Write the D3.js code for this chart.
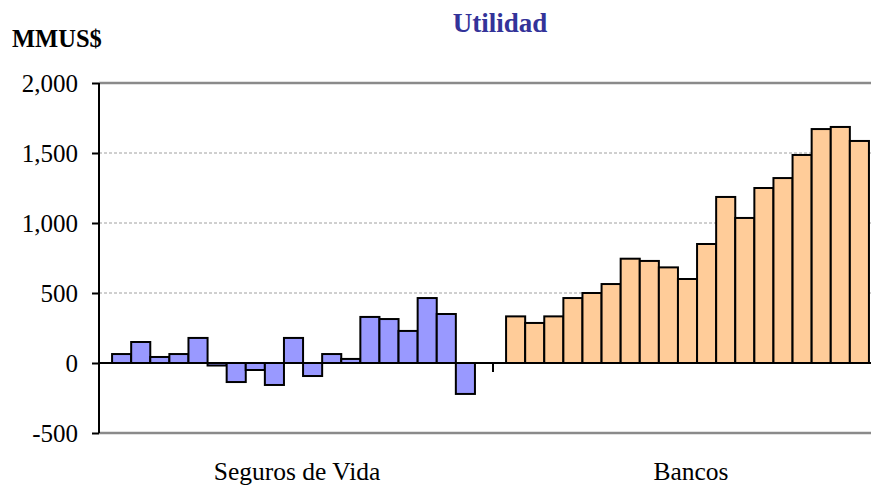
<!DOCTYPE html>
<html>
<head>
<meta charset="utf-8">
<script src="https://cdn.jsdelivr.net/npm/d3@7"></script>
<style>
  body { margin: 0; background: #fff; }
</style>
</head>
<body>
<div id="chart"></div>
<script>
// Data
var categories = ["Seguros de Vida", "Bancos"];
var seguros = [64, 150, 43, 64, 179, -18, -136, -50, -157, 179, -93, 64, 29, 329, 314, 229, 464, 350, -221];
var bancos = [333, 286, 333, 464, 500, 564, 745, 729, 683, 600, 850, 1186, 1036, 1250, 1321, 1486, 1671, 1686, 1586];
var yTicks = [-500, 0, 500, 1000, 1500, 2000];

var series = [seguros, bancos];
var colors = ["#9999FF", "#FFCC99"];
var serif = "'Liberation Serif', 'Times New Roman', serif";

var width = 871;
var height = 486;

var svg = d3.select("#chart")
            .append("svg")
            .attr("width", width)
            .attr("height", height)
            .style("display", "block");

// Scales
var y = d3.scaleLinear().domain([-500, 2000]).range([433, 83]);
var x0 = d3.scaleBand().domain(categories).range([99, 887]).padding(0);
var x1 = d3.scaleBand()
           .domain(d3.range(seguros.length))
           .range([0, x0.bandwidth()])
           .paddingInner(0)
           .paddingOuter(0.815)
           .align(0.42);

// Gridlines
svg.append("g")
   .selectAll("line")
   .data(yTicks.filter(function(d) { return d !== 0; }))
   .enter()
   .append("line")
   .attr("x1", 99)
   .attr("x2", width)
   .attr("y1", function(d) { return y(d); })
   .attr("y2", function(d) { return y(d); })
   .attr("stroke", function(d) { return (d === 2000 || d === -500) ? "#8a8a8a" : "#a0a0a0"; })
   .attr("stroke-width", function(d) { return (d === 2000 || d === -500) ? 2.5 : 1; })
   .attr("stroke-dasharray", function(d) { return (d === 2000 || d === -500) ? null : "3,2"; });

// Bars
categories.forEach(function(cat, i) {
    svg.append("g")
       .attr("transform", "translate(" + x0(cat) + ",0)")
       .selectAll("rect")
       .data(series[i])
       .enter()
       .append("rect")
       .attr("x", function(d, j) { return x1(j); })
       .attr("y", function(d) { return y(Math.max(0, d)); })
       .attr("width", x1.bandwidth())
       .attr("height", function(d) { return Math.abs(y(d) - y(0)); })
       .attr("fill", colors[i])
       .attr("stroke", "#000")
       .attr("stroke-width", 2);
});

// Value axis
var fmt = d3.format(",");
var yAxis = svg.append("g")
   .attr("transform", "translate(99,0)")
   .call(d3.axisLeft(y).tickValues(yTicks).tickSize(7).tickPadding(14)
           .tickFormat(function(d) { return fmt(d).replace("\u2212", "-"); }));
yAxis.select(".domain").attr("stroke", "#000").attr("stroke-width", 2).attr("d", "M0," + y(2000) + "V" + y(-500));
yAxis.selectAll(".tick line").attr("stroke", "#000").attr("stroke-width", 2);
yAxis.selectAll(".tick text")
     .attr("fill", "#000")
     .attr("dy", "0.33em")
     .style("font-family", serif)
     .style("font-size", "25px");

// Category axis at zero
svg.append("line")
   .attr("x1", 99).attr("x2", width)
   .attr("y1", y(0)).attr("y2", y(0))
   .attr("stroke", "#000")
   .attr("stroke-width", 2);

svg.append("g")
   .selectAll("line")
   .data(categories.slice(1))
   .enter()
   .append("line")
   .attr("x1", function(d) { return x0(d); })
   .attr("x2", function(d) { return x0(d); })
   .attr("y1", y(0))
   .attr("y2", y(0) + 9)
   .attr("stroke", "#000")
   .attr("stroke-width", 2);

svg.append("g")
   .selectAll("text")
   .data(categories)
   .enter()
   .append("text")
   .attr("x", function(d) { return x0(d) + x0.bandwidth() / 2 + 1; })
   .attr("y", 480)
   .attr("text-anchor", "middle")
   .style("font-family", serif)
   .style("font-size", "25.5px")
   .text(function(d) { return d; });

// Titles
svg.append("text")
   .attr("x", 500)
   .attr("y", 32)
   .attr("text-anchor", "middle")
   .attr("fill", "#333399")
   .style("font-family", serif)
   .style("font-size", "27px")
   .style("font-weight", "bold")
   .text("Utilidad");

svg.append("text")
   .attr("x", 12)
   .attr("y", 47)
   .style("font-family", serif)
   .style("font-size", "24.5px")
   .style("font-weight", "bold")
   .text("MMUS$");
</script>
</body>
</html>
